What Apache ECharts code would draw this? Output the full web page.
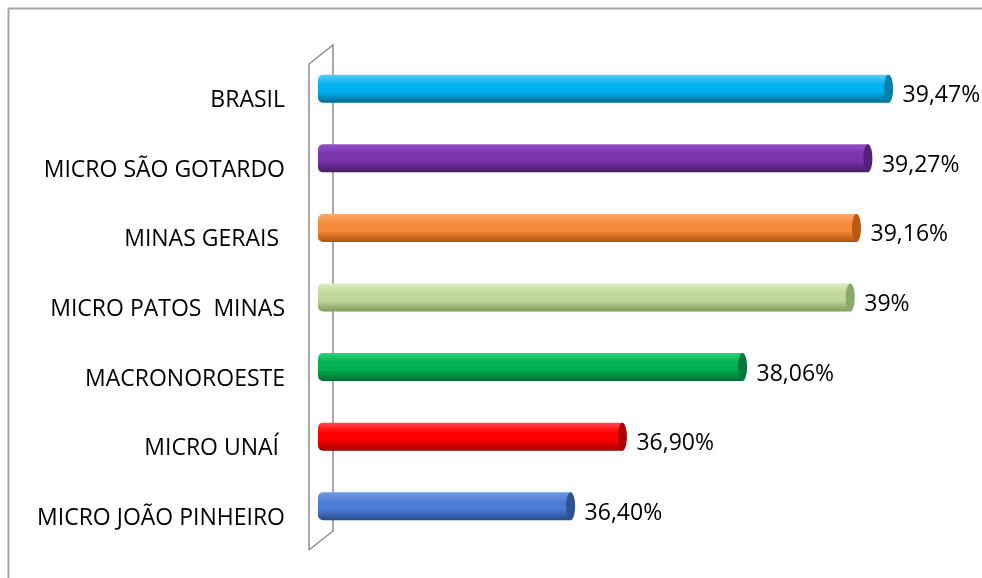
<!DOCTYPE html>
<html><head><meta charset="utf-8">
<script src="https://cdn.jsdelivr.net/npm/echarts@6/dist/echarts.min.js"></script>
<style>html,body{margin:0;padding:0;background:#fff}#c{width:982px;height:578px}</style>
</head><body><div id="c"></div>
<script>
const categories = ['BRASIL','MICRO SÃO GOTARDO','MINAS GERAIS ','MICRO PATOS  MINAS','MACRONOROESTE','MICRO UNAÍ ','MICRO JOÃO PINHEIRO'];
const values = [39.47, 39.27, 39.16, 39.10, 38.06, 36.90, 36.40];
const valueLabels = ['39,47%','39,27%','39,16%','39%','38,06%','36,90%','36,40%'];
// [light top, main, dark bottom, end cap]
const palette = [
  ['#52CFF8','#00B0F0','#006A92','#0A7FAA'],
  ['#9650C8','#7A34AA','#47196A','#53227A'],
  ['#FAAA6E','#F68A3A','#B0540F','#BA5A14'],
  ['#DDEBC0','#BFD89A','#7F9C5A','#8AA866'],
  ['#2CD27A','#00B050','#006B32','#007A3A'],
  ['#FF4A4A','#FF0000','#A00000','#AE0000'],
  ['#6E9AE6','#4A7DD4','#2A4C8C','#2F548F']
];
const axisMin = 34, axisMax = 40;

const chart = echarts.init(document.getElementById('c'), null, {renderer:'canvas'});
const fontFam = 'Open Sans, Noto Sans, sans-serif';
chart.setOption({
  animation:false,
  grid:{left:322, right:38.5, top:54, bottom:37},
  xAxis:{type:'value', min:axisMin, max:axisMax, show:false},
  yAxis:{type:'category', data:categories, inverse:true,
    axisLine:{show:false}, axisTick:{show:false}, axisLabel:{show:false}},
  graphic:[
    {type:'line', shape:{x1:8.5,y1:8.5,x2:982,y2:8.5}, style:{stroke:'#A6A6A6', lineWidth:2}},
    {type:'line', shape:{x1:8.5,y1:8.5,x2:8.5,y2:578}, style:{stroke:'#A6A6A6', lineWidth:2}},
    {type:'polyline', shape:{points:[[309,550],[309,64],[333,45],[333,531],[309,550]]}, style:{stroke:'#8C8C8C', lineWidth:1.5, fill:null}}
  ],
  series:[{
    type:'custom',
    data: values.map((v,i)=>[v,i]),
    renderItem:function(params, api){
      const i = api.value(1);
      const s = api.coord([axisMin, i]);
      const e = api.coord([api.value(0), i]);
      const h = 28;
      const rx = 4.5;
      const c = palette[i];
      const grad = new echarts.graphic.LinearGradient(0,0,0,1,[
        {offset:0,color:c[0]},{offset:0.35,color:c[1]},{offset:0.6,color:c[1]},{offset:1,color:c[2]}]);
      const y0 = s[1]-h/2;
      const x0 = s[0]-4;
      return {type:'group', children:[
        {type:'rect', shape:{x:x0, y:y0, width:e[0]-x0, height:h, r:[5,0,0,5]}, style:{fill:grad}},
        {type:'ellipse', shape:{cx:e[0], cy:s[1], rx:rx, ry:h/2}, style:{fill:c[3]}},
        {type:'text', style:{text:valueLabels[i], x:e[0]+14, y:s[1]+7, verticalAlign:'middle', fontSize:23, fontFamily:fontFam, fill:'#000'}},
        {type:'text', style:{text:categories[i], x:285, y:s[1]+12, align:'right', verticalAlign:'middle', fontSize:23, fontFamily:fontFam, fill:'#000'}}
      ]};
    }
  }]
});
</script></body></html>
